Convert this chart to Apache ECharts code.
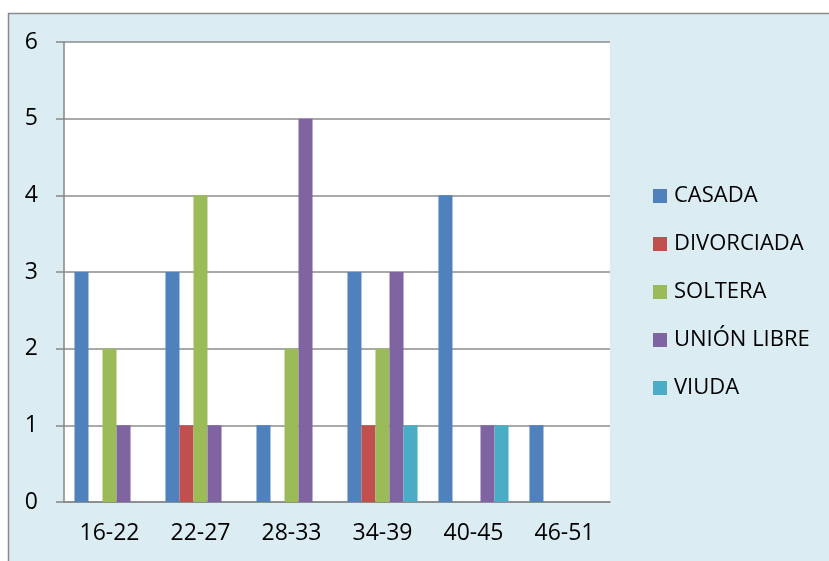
<!DOCTYPE html>
<html>
<head>
<meta charset="utf-8">
<script src="https://cdn.jsdelivr.net/npm/echarts@6/dist/echarts.min.js"></script>
<style>
  html, body { margin: 0; padding: 0; background: #ffffff; }
  #chart { width: 829px; height: 561px; }
</style>
</head>
<body>
<div id="chart"></div>
<script>
// Age ranges on the x axis
const categories = ['16-22', '22-27', '28-33', '34-39', '40-45', '46-51'];

// Counts per marital status
const casada     = [3, 3, 1, 3, 4, 1];
const divorciada = [0, 1, 0, 1, 0, 0];
const soltera    = [2, 4, 2, 2, 0, 0];
const unionLibre = [1, 1, 5, 3, 1, 0];
const viuda      = [0, 0, 0, 1, 1, 0];

const seriesNames = ['CASADA', 'DIVORCIADA', 'SOLTERA', 'UNIÓN LIBRE', 'VIUDA'];
const seriesData = [casada, divorciada, soltera, unionLibre, viuda];
const colors = ['#4F81BD', '#C0504D', '#9BBB59', '#8064A2', '#4BACC6'];

const yTicks = [0, 1, 2, 3, 4, 5, 6];

const font = '"Open Sans", "Noto Sans", sans-serif';
const axisGray = '#868686';

const chart = echarts.init(document.getElementById('chart'), null, { renderer: 'canvas' });

chart.setOption({
  backgroundColor: '#ffffff',
  animation: false,
  color: colors,
  graphic: [{
    type: 'rect',
    z: -10,
    shape: { x: 8.5, y: 13.5, width: 900, height: 700 },
    style: { fill: '#DBEDF3', stroke: '#8A8A8A', lineWidth: 1.5 }
  }, {
    type: 'rect',
    z: -5,
    shape: { x: 64, y: 42, width: 546, height: 460 },
    style: { fill: '#ffffff' }
  }],
  grid: { left: 64, top: 42, right: 219, bottom: 59 },
  legend: {
    orient: 'vertical',
    left: 653,
    top: 184,
    padding: 0,
    icon: 'rect',
    itemWidth: 14,
    itemHeight: 14,
    itemGap: 24,
    data: seriesNames,
    textStyle: { fontFamily: font, fontSize: 22, color: '#000', lineHeight: 24, padding: [0, 0, 0, 2] }
  },
  xAxis: {
    type: 'category',
    data: categories,
    boundaryGap: true,
    axisLine: { lineStyle: { color: axisGray, width: 1.5 } },
    axisTick: { length: 8, lineStyle: { color: axisGray, width: 1.5 } },
    axisLabel: { fontFamily: font, fontSize: 23, color: '#000', margin: 20 }
  },
  yAxis: {
    type: 'value',
    min: yTicks[0],
    max: yTicks[yTicks.length - 1],
    interval: 1,
    axisLine: { show: true, lineStyle: { color: axisGray, width: 1.5 } },
    axisTick: { show: true, length: 8, lineStyle: { color: axisGray, width: 1.5 } },
    splitLine: { lineStyle: { color: '#8C8C8C', width: 1.5 } },
    axisLabel: { fontFamily: font, fontSize: 23, color: '#000', margin: 26 }
  },
  series: seriesNames.map((name, i) => ({
    name: name,
    type: 'bar',
    data: seriesData[i],
    barGap: '0%',
    barCategoryGap: '23%',
    itemStyle: { color: colors[i] }
  }))
});
</script>
</body>
</html>
